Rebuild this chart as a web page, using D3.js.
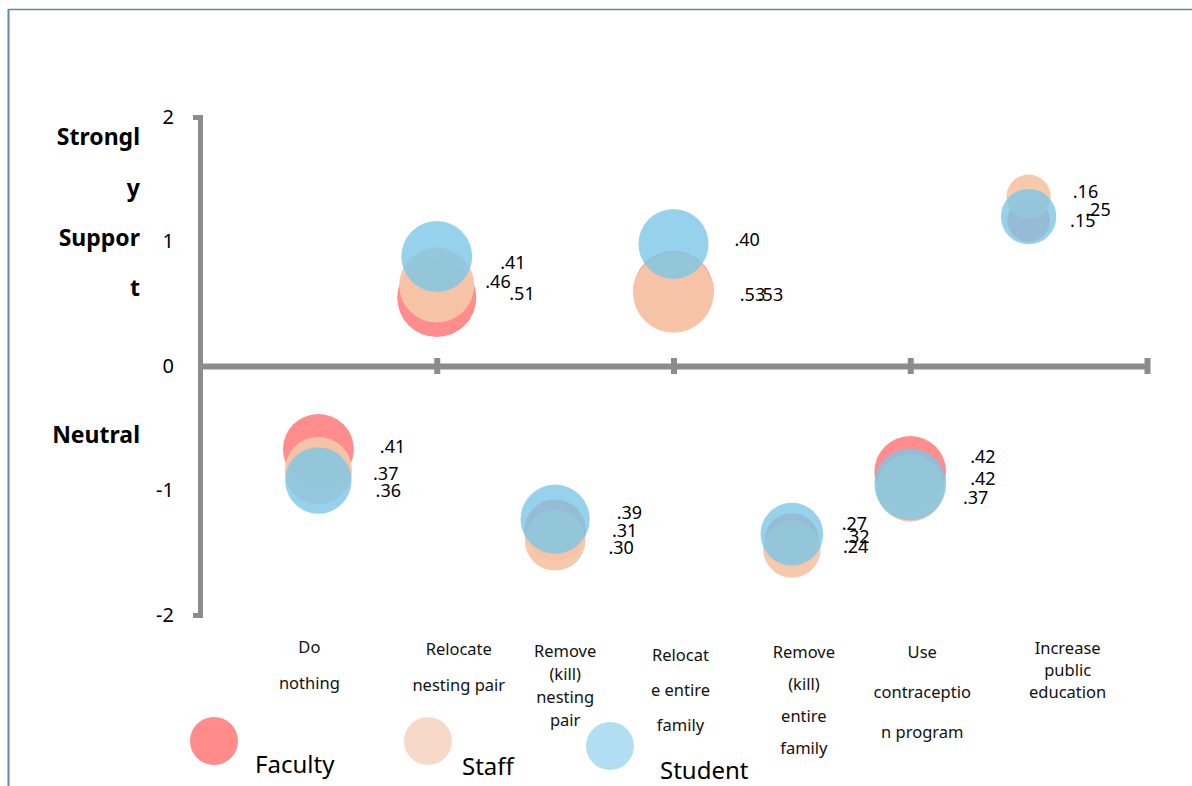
<!DOCTYPE html>
<html>
<head>
<meta charset="utf-8">
<script src="https://cdn.jsdelivr.net/npm/d3@7/dist/d3.min.js"></script>
<style>
  body { margin: 0; background: #fff; }
  svg { display: block; font-family: "Noto Sans", "Open Sans", sans-serif; }
</style>
</head>
<body>
<div id="chart"></div>
<script>
// categories (split into the lines shown under the axis)
var categories = [
	["Do", "nothing"],
	["Relocate", "nesting pair"],
	["Remove", "(kill)", "nesting", "pair"],
	["Relocat", "e entire", "family"],
	["Remove", "(kill)", "entire", "family"],
	["Use", "contraceptio", "n program"],
	["Increase", "public", "education"]
];
var seriesNames = ["Faculty", "Staff", "Student"];

// mean support (y) and bubble size for each group
var facultyY    = [-0.67, 0.55, -1.32, 0.60, -1.40, -0.85, 1.17];
var facultySize = [0.41, 0.51, 0.31, 0.53, 0.24, 0.42, 0.15];
var staffY      = [-0.84, 0.65, -1.40, 0.59, -1.47, -0.98, 1.36];
var staffSize   = [0.37, 0.46, 0.30, 0.53, 0.27, 0.37, 0.16];
var studentY    = [-0.92, 0.88, -1.23, 0.98, -1.35, -0.95, 1.20];
var studentSize = [0.36, 0.41, 0.39, 0.40, 0.32, 0.42, 0.25];

var yTicks = [-2, -1, 0, 1, 2];
var yNames = ["Strongl", "y", "Suppor", "t"];

var w = 1192, h = 786;

var svg = d3.select("#chart")
			.append("svg")
			.attr("width", w)
			.attr("height", h);

// frame lines
svg.append("line").attr("x1", 8).attr("x2", w).attr("y1", 9.5).attr("y2", 9.5)
   .attr("stroke", "#5b8ea1").attr("stroke-width", 1.5);
svg.append("line").attr("x1", 8.5).attr("x2", 8.5).attr("y1", 9).attr("y2", h)
   .attr("stroke", "#5b8ea1").attr("stroke-width", 2);

var xScale = d3.scaleLinear().domain([0, 8]).range([200, 1147]);
var yScale = d3.scaleLinear().domain([-2, 2]).range([615, 117]);
var rScale = d3.scaleSqrt().domain([0, 0.53]).range([0, 40.3]);

var colors = {Faculty: "#ff7070", Staff: "#f6c6a9", Student: "#7cc7e7"};
var opacity = {Faculty: 0.8, Staff: 0.95, Student: 0.8};
var legendColors = {Faculty: "#ff8b8b", Staff: "#f8d9c9", Student: "#b2def3"};

// y axis
var yAxis = d3.axisLeft(yScale)
			  .tickValues(yTicks)
			  .tickSizeInner(0)
			  .tickSizeOuter(7)
			  .tickPadding(26)
			  .tickFormat(d => String(d));

var gy = svg.append("g")
   .attr("class", "y axis")
   .attr("transform", "translate(200,0)")
   .call(yAxis);
gy.select(".domain").attr("stroke", "#8c8c8c").attr("stroke-width", 5);
gy.selectAll("text").style("font-size", "20px").attr("fill", "#000")
  .style("font-family", "'Noto Sans', sans-serif");

// x axis crossing at 0
var xAxis = d3.axisBottom(xScale)
			  .tickValues([2, 4, 6, 8])
			  .tickSizeOuter(0)
			  .tickFormat("");

var gx = svg.append("g")
   .attr("class", "x axis")
   .attr("transform", "translate(0," + yScale(0) + ")")
   .call(xAxis);
gx.select(".domain").attr("stroke", "#8c8c8c").attr("stroke-width", 6);
gx.selectAll(".tick line").attr("y1", -8).attr("y2", 8)
  .attr("stroke", "#8c8c8c").attr("stroke-width", 6);

// y category names
var yNameRows = [137, 188, 238, 288];
svg.selectAll("text.yname")
   .data(yNames)
   .enter()
   .append("text")
   .attr("class", "yname")
   .attr("x", 140)
   .attr("y", (d, i) => yNameRows[i] + 8)
   .attr("text-anchor", "end")
   .style("font-size", "23px")
   .style("font-weight", "bold")
   .text(d => d);
svg.append("text")
   .attr("x", 140)
   .attr("y", 443)
   .attr("text-anchor", "end")
   .style("font-size", "23px")
   .style("font-weight", "bold")
   .text("Neutral");

// category labels under the plot
var catDx = [-9, 22, 10, 7, 12, 12, 39];
var catTop = [647, 649, 651, 655, 652, 652, 648];
var catGap = [36, 36, 23, 35, 32, 40, 22];

categories.forEach(function(lines, i) {
	var t = svg.append("text")
			   .attr("text-anchor", "middle")
			   .style("font-size", "16.5px")
			   .attr("fill", "#111");
	lines.forEach(function(line, j) {
		t.append("tspan")
		 .attr("x", xScale(i + 1) + catDx[i])
		 .attr("y", catTop[i] + j * catGap[i] + 6)
		 .text(line);
	});
});

// bubbles
var seriesY = [facultyY, staffY, studentY];
var seriesSize = [facultySize, staffSize, studentSize];
var points = [];
seriesNames.forEach(function(name, s) {
	categories.forEach(function(c, i) {
		points.push({series: name, s: s, i: i, x: i + 1, y: seriesY[s][i], size: seriesSize[s][i]});
	});
});

svg.selectAll("circle.bubble")
   .data(points)
   .enter()
   .append("circle")
   .attr("class", "bubble")
   .attr("cx", d => xScale(d.x))
   .attr("cy", d => yScale(d.y))
   .attr("r", d => rScale(d.size))
   .attr("fill", d => colors[d.series])
   .attr("fill-opacity", d => opacity[d.series]);

var fmt = function(v) { return d3.format(".2f")(v).replace(/^0/, ""); };

// hand nudges of the data labels, as they were dragged in the original
var labelDx = [
	[2, 9, 2, 20, 0, 0, -4],
	[-3, -13, -1, 2, -3, -5, -2],
	[0, 4, 3, 2, -3, 0, 5]
];
var labelDy = [
	[-3, -4, 0, 3, 6, -15, 0],
	[3, -4, 7, 2, -26, 9, -5],
	[10, 6, -7, -4, 2, -6, -7]
];

svg.selectAll("text.dlabel")
   .data(points)
   .enter()
   .append("text")
   .attr("class", "dlabel")
   .attr("x", d => xScale(d.x) + rScale(d.size) + 24 + labelDx[d.s][d.i])
   .attr("y", d => yScale(d.y) + 6.5 + labelDy[d.s][d.i])
   .style("font-size", "18px")
   .text(d => fmt(d.size));

// legend
var legendX = [214, 428, 610];
var legendY = [741, 741, 746];
var legendTextX = [255, 462, 660];
var legendTextY = [773, 775, 779];
var legend = svg.selectAll("g.legend")
   .data(seriesNames)
   .enter()
   .append("g")
   .attr("class", "legend");
legend.append("circle")
   .attr("cx", (d, i) => legendX[i])
   .attr("cy", (d, i) => legendY[i])
   .attr("r", 24)
   .attr("fill", d => legendColors[d]);
legend.append("text")
   .attr("x", (d, i) => legendTextX[i])
   .attr("y", (d, i) => legendTextY[i])
   .style("font-size", "24px")
   .text(d => d);
</script>
</body>
</html>
